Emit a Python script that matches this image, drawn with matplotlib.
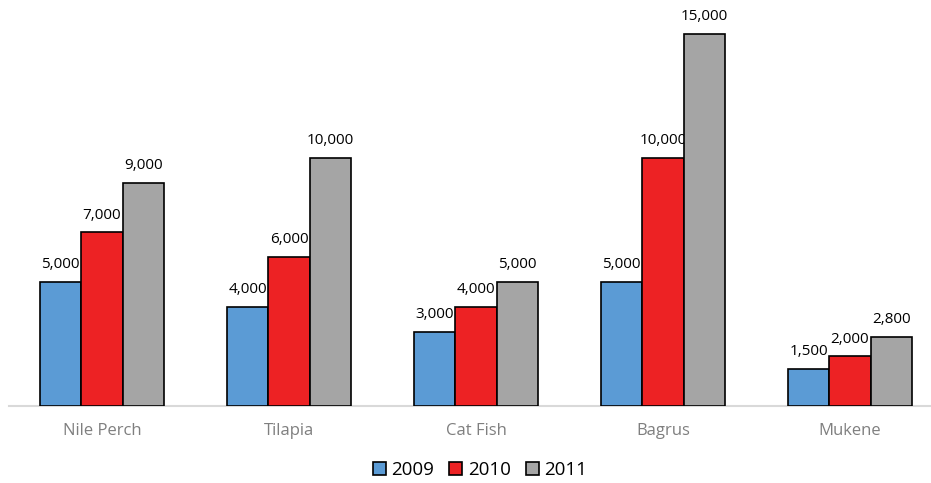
import matplotlib
matplotlib.use("Agg")
import matplotlib.pyplot as plt
import numpy as np

categories = ["Nile Perch", "Tilapia", "Cat Fish", "Bagrus", "Mukene"]
series_names = ["2009", "2010", "2011"]
v2009 = [5000, 4000, 3000, 5000, 1500]
v2010 = [7000, 6000, 4000, 10000, 2000]
v2011 = [9000, 10000, 5000, 15000, 2800]
colors = ["#5B9BD5", "#ED2224", "#A5A5A5"]

plt.rcParams['font.family'] = ['Open Sans', 'DejaVu Sans']

W, H = 931, 483
fig = plt.figure(figsize=(W/100, H/100), dpi=100)
left = 8.5 / W
bottom = 77 / H
top_px = 9.2
ax = fig.add_axes([left, bottom, 1 - left, (406 - top_px) / H])

x = np.arange(len(categories))
bw = 0.222
data = [v2009, v2010, v2011]
for i, (vals, c, name) in enumerate(zip(data, colors, series_names)):
    bars = ax.bar(x + (i - 1) * bw, vals, bw, color=c, edgecolor="black",
                  linewidth=1.2, label=name, zorder=3)
    for b, v in zip(bars, vals):
        ax.annotate(f"{v:,}", (b.get_x() + b.get_width() / 2, v),
                    xytext=(0, 7), textcoords="offset points",
                    ha="center", va="bottom", fontsize=11, color="black")

ax.set_xlim(-0.5, -0.5 + (W - 8.5) / 187)
ax.set_ylim(0, 16000)
for s in ["top", "right", "left"]:
    ax.spines[s].set_visible(False)
ax.spines["bottom"].set_color("#D9D9D9")
ax.spines["bottom"].set_linewidth(1.5)
ax.set_yticks([])
ax.set_xticks(x)
ax.set_xticklabels(categories, fontsize=12, color="#7F7F7F")
ax.tick_params(axis="x", length=0, pad=12)

leg = fig.legend(loc="center", bbox_to_anchor=(480 / W, 1 - 470 / H), ncol=3,
                 frameon=False, fontsize=13.5, handlelength=0.7, handleheight=0.7,
                 handletextpad=0.3, columnspacing=0.8)
plt.savefig("out.png", dpi=100)
